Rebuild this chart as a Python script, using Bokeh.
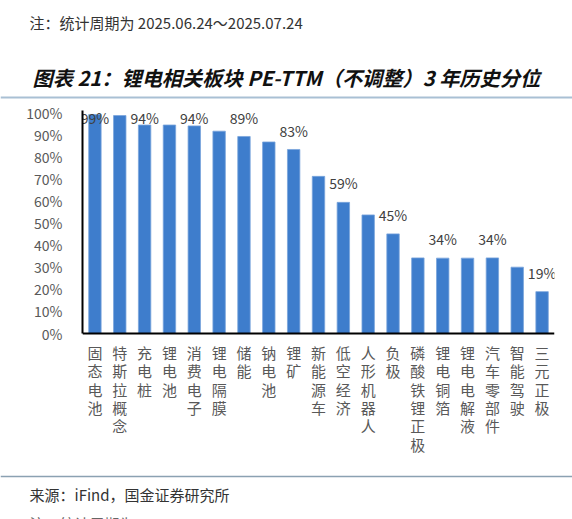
from bokeh.core.properties import value
from bokeh.embed import file_html
from bokeh.layouts import column
from bokeh.models import ColumnDataSource, FixedTicker, Range1d, Span
from bokeh.plotting import figure
from bokeh.resources import INLINE

# data
sectors = ["固态电池", "特斯拉概念", "充电桩", "锂电池", "消费电子", "锂电隔膜", "储能", "钠电池", "锂矿",
           "新能源车", "低空经济", "人形机器人", "负极", "磷酸铁锂正极", "锂电铜箔", "锂电电解液",
           "汽车零部件", "智能驾驶", "三元正极"]
percentile = [99.4, 98.9, 94.6, 94.6, 94.2, 91.8, 89.4, 86.9, 83.5, 71.3, 59.5, 53.8, 45.2,
              34.3, 34.2, 34.2, 34.3, 30.1, 19.0]
bar_labels = ["99%", "", "94%", "", "94%", "", "89%", "", "83%", "", "59%", "", "45%", "",
              "34%", "", "34%", "", "19%"]
y_ticks = [0, 10, 20, 30, 40, 50, 60, 70, 80, 90, 100]

note_text = "注：统计周期为 2025.06.24～2025.07.24"
title_text = "图表 21：锂电相关板块 PE-TTM（不调整）3 年历史分位"
source_text = "来源：iFind，国金证券研究所"
next_note = "注：统计周期为 2025.7.24～2025.7.30"  # only its top edge shows

FONT = "Noto Sans CJK SC"
W = 572


def bare(fig):
    fig.axis.visible = False
    fig.grid.visible = False
    fig.outline_line_color = None
    fig.min_border = 0
    fig.min_border_left = fig.min_border_right = 0
    fig.min_border_top = fig.min_border_bottom = 0
    fig.frame_align = False
    return fig


# header: note, title and rule
head = bare(figure(width=W, height=100, x_range=Range1d(0, W), y_range=Range1d(100, 0),
                   output_backend="svg", toolbar_location=None))
head.text(x=[29], y=[22], text=[note_text], text_font=value(FONT), text_font_size="15px",
          text_color="#333333", text_baseline="middle")
head.text(x=[32], y=[77], text=[title_text], text_font=value(FONT), text_font_size="20.2px",
          text_font_style="bold italic", text_color="#111111", text_baseline="middle")
head.line(x=[0, W], y=[97, 97], line_color="#a9c0d4", line_width=2)

# main bar chart
label_y = [min(v + 8.6, 98) for v in percentile]
src = ColumnDataSource(dict(sector=sectors, value=percentile, label=bar_labels, label_y=label_y))

# category names written one character per row under the bars
cx, ch, off = [], [], []
for s in sectors:
    for i, c in enumerate(s):
        cx.append(s)
        ch.append(c)
        off.append(19 + i * 18.3)
cat_src = ColumnDataSource(dict(x=cx, ch=ch, off=off))

p = figure(width=W, height=370, x_range=sectors, y_range=Range1d(-62.16, 103),
           output_backend="svg", toolbar_location=None)
p.min_border_top = 6
p.min_border_bottom = 0
p.min_border_left = 82
p.min_border_right = 18
p.frame_align = False
p.outline_line_color = None
p.grid.visible = False
p.x_range.range_padding = 0
p.xaxis.visible = False

p.vbar(x="sector", top="value", width=0.5, source=src, fill_color="#3e7dcc",
       line_color="#7aa4dc", line_width=0.8)
p.text(x="sector", y="label_y", text="label", source=src, text_font=value(FONT),
       text_font_size="14px", text_color="#404040", text_align="center", text_baseline="middle")
p.text(x="x", y=0, text="ch", y_offset="off", source=cat_src, text_font=value(FONT),
       text_font_size="15px", text_color="#595959", text_align="center", text_baseline="middle")
p.add_layout(Span(location=0, dimension="width", line_color="black", line_width=2))

p.yaxis.ticker = FixedTicker(ticks=y_ticks)
p.yaxis.major_label_overrides = {t: f"{t}%" for t in y_ticks}
p.yaxis.bounds = (0, 101)
p.yaxis.major_tick_line_color = None
p.yaxis.minor_tick_line_color = None
p.yaxis.major_label_standoff = 14
p.yaxis.axis_line_color = "black"
p.yaxis.axis_line_width = 2
p.yaxis.major_label_text_font = FONT
p.yaxis.major_label_text_color = "#595959"
p.yaxis.major_label_text_font_size = "14px"

# footer: rule, source and the clipped start of the next note
foot = bare(figure(width=W, height=49, x_range=Range1d(0, W), y_range=Range1d(49, 0),
                   output_backend="svg", toolbar_location=None))
foot.line(x=[0, W], y=[6, 6], line_color="#8ba1b2", line_width=1.5)
foot.text(x=[29], y=[24], text=[source_text], text_font=value(FONT), text_font_size="15px",
          text_color="#333333", text_baseline="middle")
foot.text(x=[29], y=[53], text=[next_note], text_font=value(FONT), text_font_size="15px",
          text_color="#666666", text_baseline="middle")

layout = column(head, p, foot, spacing=0)
open("out.html", "w").write(file_html(layout, INLINE))
